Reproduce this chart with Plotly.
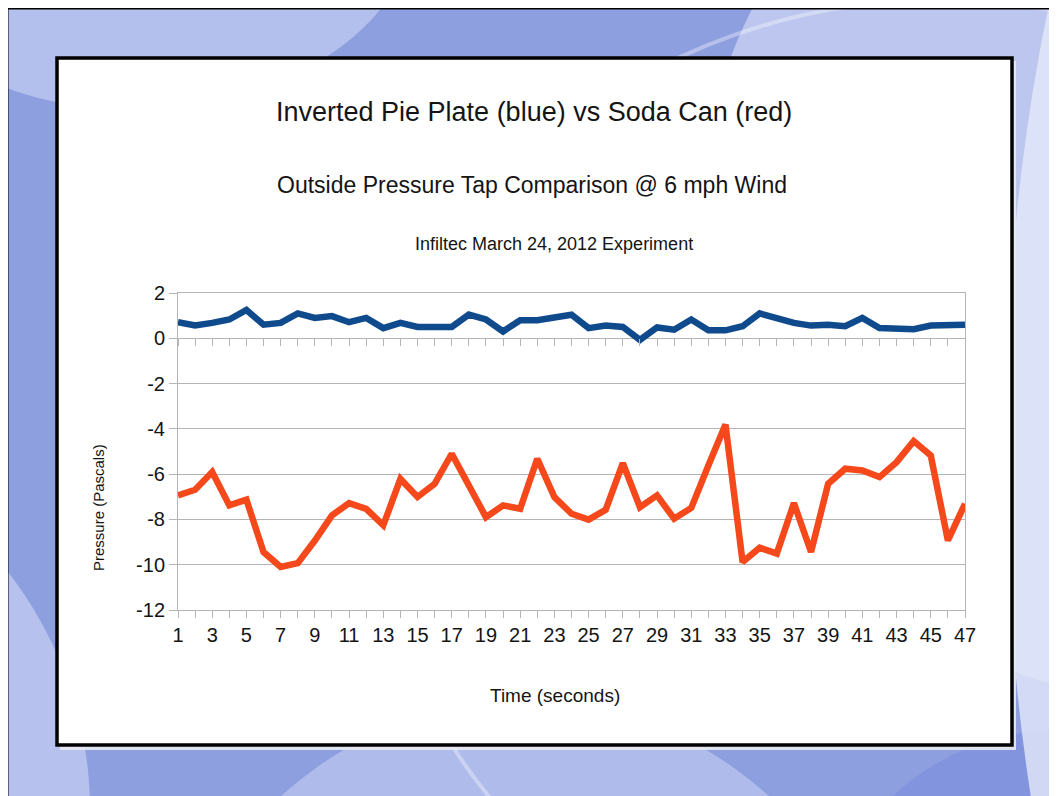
import plotly.graph_objects as go

# ---- data ----
seconds = list(range(1, 48))
pie_plate = [0.71, 0.57, 0.68, 0.83, 1.25, 0.60, 0.68, 1.10, 0.90, 0.98,
             0.71, 0.90, 0.45, 0.68, 0.50, 0.50, 0.50, 1.05, 0.83, 0.30,
             0.80, 0.80, 0.95, 1.04, 0.45, 0.56, 0.50, -0.07, 0.48, 0.38,
             0.83, 0.35, 0.35, 0.53, 1.10, 0.90, 0.68, 0.56, 0.60, 0.53,
             0.90, 0.45, 0.40, 0.40, 0.56, 0.60, 0.60]
soda_can = [-6.94, -6.69, -5.91, -7.38, -7.13, -9.44, -10.10, -9.93, -8.93, -7.82,
            -7.28, -7.53, -8.26, -6.21, -7.01, -6.43, -5.10, -6.43, -7.90, -7.38,
            -7.53, -5.32, -7.01, -7.75, -8.01, -7.57, -5.51, -7.46, -6.94, -7.97,
            -7.49, -5.62, -3.81, -9.88, -9.25, -9.51, -7.28, -9.44, -6.43, -5.76,
            -5.84, -6.13, -5.47, -4.54, -5.18, -8.93, -7.31]
x_tick_text = [str(s) if s % 2 == 1 else "" for s in seconds]
y_ticks = [2, 0, -2, -4, -6, -8, -10, -12]
y_tick_text = ["2", "0", "-2", "-4", "-6", "-8", "-10", "-12"]

title_text = "Inverted Pie Plate (blue) vs Soda Can (red)"
subtitle_text = "Outside Pressure Tap Comparison @ 6 mph Wind"
note_text = "Infiltec March 24, 2012 Experiment"
x_title = "Time (seconds)"
y_title = "Pressure (Pascals)"

# ---- layout geometry (page pixels; the page body adds an 8px offset) ----
OFF = 8
W, H = 1057 - OFF, 796 - OFF
L, R, T, B = 178, 965, 293, 610          # plot area in page pixels
YMIN, YMAX = -12, 2
FONT = "Liberation Sans, Arial, sans-serif"
GRID = "#b4b4b4"
TXT = "#141414"


def px(x):
    return (x - L) / (R - L)


def py(y):
    return (B - y) / (B - T)


fig = go.Figure()
fig.add_trace(go.Scatter(x=seconds, y=pie_plate, mode="lines",
                         line=dict(color="#0f4b8c", width=6.5), name="Pie plate"))
fig.add_trace(go.Scatter(x=seconds, y=soda_can, mode="lines",
                         line=dict(color="#f5481b", width=6.5), name="Soda can"))
# helper trace so the tick axis at y=0 is drawn
fig.add_trace(go.Scatter(x=seconds, y=soda_can, xaxis="x2", mode="lines",
                         line=dict(width=0), opacity=0, hoverinfo="skip",
                         showlegend=False))

shapes = []
# background pattern
bg = [
    ((700, -250, 1650, 700), "rgba(225,230,250,0.55)"),
    ((-150, -300, 420, 110), "rgba(210,218,248,0.55)"),
    ((-700, 420, 90, 1200), "rgba(215,222,248,0.55)"),
    ((150, 700, 900, 1500), "rgba(215,222,248,0.45)"),
    ((820, 730, 1300, 1200), "rgba(110,130,215,0.35)"),
    ((1005, -400, 1600, 1300), "rgba(228,232,250,0.8)"),
]
for (x0, y0, x1, y1), col in bg:
    shapes.append(dict(type="circle", xref="paper", yref="paper",
                       x0=px(x0), x1=px(x1), y0=py(y1), y1=py(y0),
                       fillcolor=col, line=dict(width=0), layer="below"))
# white arc
shapes.append(dict(type="circle", xref="paper", yref="paper",
                   x0=px(380), x1=px(1500), y0=py(1000), y1=py(0),
                   fillcolor="rgba(0,0,0,0)",
                   line=dict(color="rgba(255,255,255,0.35)", width=4), layer="below"))
# outer thin frame (left/top edge of the slide)
shapes.append(dict(type="rect", xref="paper", yref="paper",
                   x0=px(7), x1=px(1100), y0=py(850), y1=py(8),
                   line=dict(color="black", width=3), fillcolor="rgba(0,0,0,0)",
                   layer="below"))
# shadow + white box
shapes.append(dict(type="rect", xref="paper", yref="paper",
                   x0=px(60), x1=px(1016), y0=py(750), y1=py(61),
                   line=dict(width=0), fillcolor="rgba(232,234,242,0.9)", layer="below"))
shapes.append(dict(type="rect", xref="paper", yref="paper",
                   x0=px(57), x1=px(1012), y0=py(745), y1=py(58),
                   line=dict(color="black", width=3.5), fillcolor="white",
                   layer="below"))

annotations = [
    dict(text=title_text, x=px(534), y=py(112), font=dict(size=27)),
    dict(text=subtitle_text, x=px(532), y=py(185), font=dict(size=23)),
    dict(text=note_text, x=px(554), y=py(244), font=dict(size=18)),
    dict(text=x_title, x=px(555), y=py(695), font=dict(size=19)),
    dict(text=y_title, x=px(98), y=py(508), font=dict(size=15), textangle=-90),
]
for a in annotations:
    a.update(xref="paper", yref="paper", showarrow=False,
             xanchor="center", yanchor="middle")
    a["font"].update(family=FONT, color=TXT)

fig.update_layout(
    width=W, height=H,
    margin=dict(l=L - OFF, r=W - (R - OFF), t=T - OFF, b=H - (B - OFF), pad=0),
    paper_bgcolor="#8e9fe0",
    plot_bgcolor="rgba(0,0,0,0)",
    showlegend=False,
    shapes=shapes,
    annotations=annotations,
    xaxis=dict(range=[1, 47], tickmode="array", tickvals=seconds, ticktext=x_tick_text,
               ticks="outside", ticklen=7, tickcolor=GRID, tickwidth=1,
               showgrid=False, showline=True, linecolor=GRID, linewidth=1, mirror=True,
               zeroline=False,
               tickfont=dict(family=FONT, size=20, color=TXT)),
    xaxis2=dict(range=[1, 47], overlaying="x", anchor="free",
                position=(0 - YMIN) / (YMAX - YMIN), side="bottom",
                tickmode="array", tickvals=seconds, ticks="outside", ticklen=7,
                tickcolor=GRID, tickwidth=1, showticklabels=False, showgrid=False,
                showline=False, zeroline=False),
    yaxis=dict(range=[YMIN, YMAX], tickmode="array", tickvals=y_ticks,
               ticktext=y_tick_text,
               ticks="outside", ticklen=8, tickcolor=GRID, tickwidth=1,
               showgrid=True, gridcolor=GRID, gridwidth=1,
               showline=True, linecolor=GRID, linewidth=1, mirror=True,
               zeroline=False,
               tickfont=dict(family=FONT, size=20, color=TXT)),
)

fig.write_html("out.html")
